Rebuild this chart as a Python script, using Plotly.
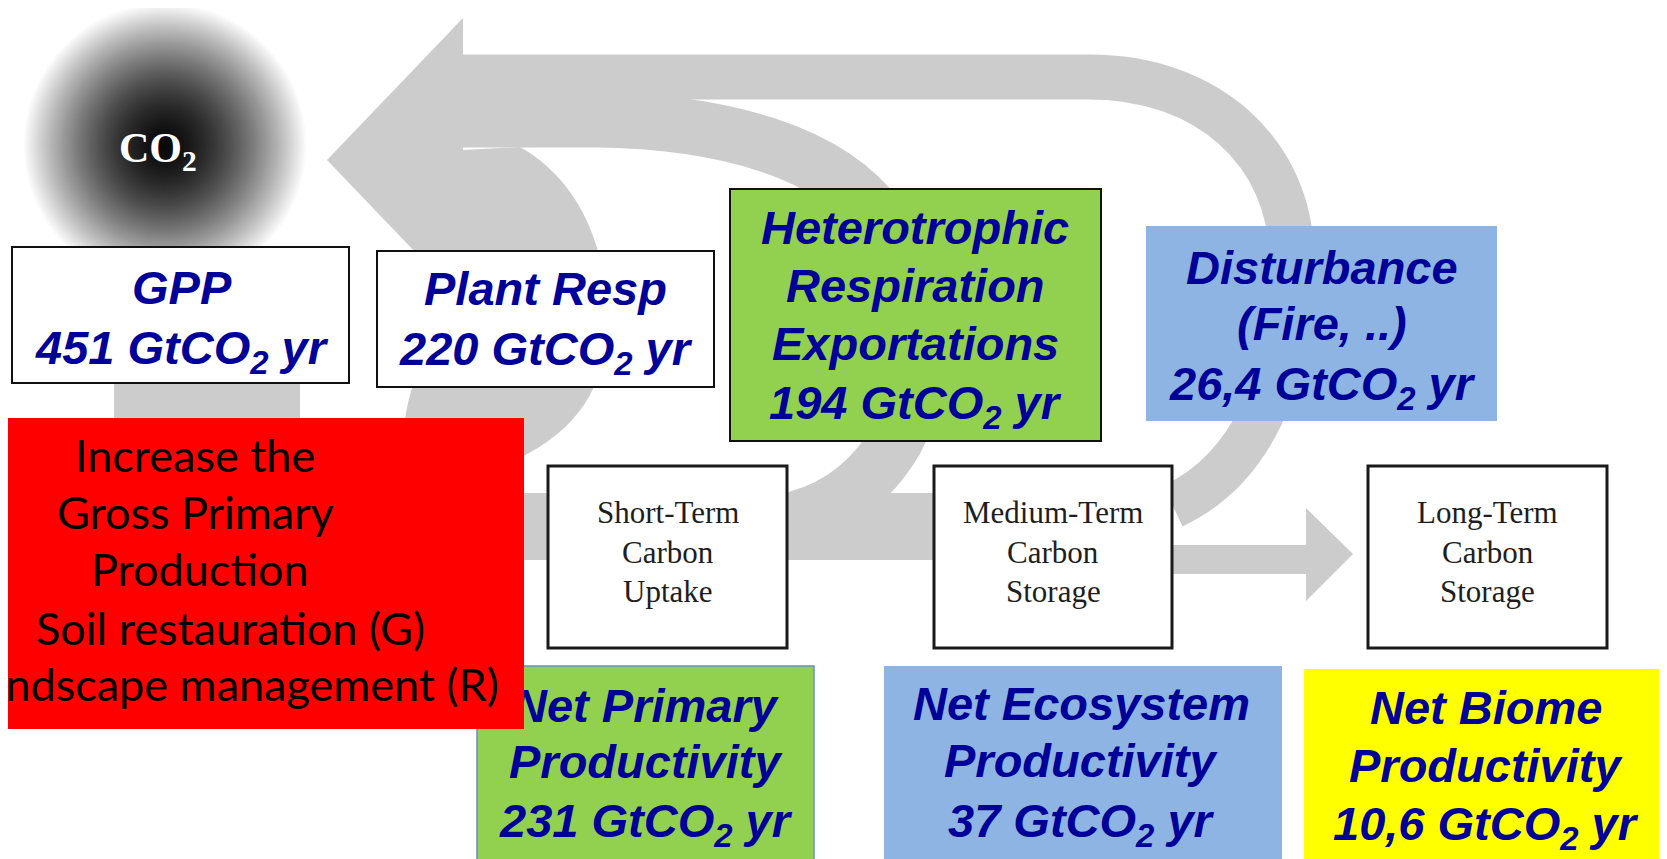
import plotly.graph_objects as go

# ------------------------------------------------------------------ data
flux_names = [
    ["GPP"],
    ["Plant Resp"],
    ["Heterotrophic", "Respiration", "Exportations"],
    ["Disturbance", "(Fire, ..)"],
    ["Net Primary", "Productivity"],
    ["Net Ecosystem", "Productivity"],
    ["Net Biome", "Productivity"],
]
flux_values = ["451", "220", "194", "26,4", "231", "37", "10,6"]
flux_unit = "GtCO<sub>2</sub> yr"
stage_labels = [
    ["Short-Term", "Carbon", "Uptake"],
    ["Medium-Term", "Carbon", "Storage"],
    ["Long-Term", "Carbon", "Storage"],
]
action_lines = ["Increase the", "Gross Primary", "Production",
                "Soil restauration (G)", "Landscape management (R)"]
source_label = "CO<sub>2</sub>"

# ------------------------------------------------------------------ layout geometry (pixels of the 1667x859 canvas)
W, H = 1667, 859
OFF = 8            # the page body adds an 8px margin; compensate so canvas px == page px
GRAY = "#CCCCCC"
NAVY = "#000099"

# x0, y0, x1, y1, fill, border colour, border width, text centre x, baselines
flux_boxes = [
    (12, 247, 349, 383, "white", "#111111", 2, 182, [304, 361.5]),
    (377, 251, 714, 387, "white", "#111111", 2, 545.5, [305, 362.5]),
    (730, 189, 1101, 441, "#92D050", "#111111", 2, 915, [244, 301.7, 360, 416.7]),
    (1146, 226, 1497, 421, "#8EB4E3", None, 0, 1322, [283.3, 340, 398.3]),
    (477, 666, 814, 866, "#92D050", "#6A8EC0", 1.5, 646, [721.7, 778, 835]),
    (884, 666, 1282, 866, "#8EB4E3", None, 0, 1081, [720, 776.7, 835]),
    (1304, 669, 1672, 866, "#FFFF00", None, 0, 1486, [723.3, 781.7, 838]),
]
stage_boxes = [(548, 466, 787, 648), (934, 466, 1172, 648), (1368, 466, 1607, 648)]
stage_baselines = [523, 563, 602]

shapes = []
annotations = []


def gpath(path, fill=True, width=0):
    if fill:
        shapes.append(dict(type="path", path=path, xref="x", yref="y", layer="below",
                           fillcolor=GRAY, line=dict(width=0)))
    else:
        shapes.append(dict(type="path", path=path, xref="x", yref="y", layer="below",
                           fillcolor="rgba(0,0,0,0)", line=dict(color=GRAY, width=width)))


# --- grey flow arrows (background)
gpath("M 327 160 L 463 18 L 463 302 Z")                                    # big arrow head -> CO2
gpath("M 458 77 L 1090 77 C 1205 77, 1292 150, 1292 262 "
      "C 1292 380, 1250 470, 1173 506", fill=False, width=45)               # disturbance loop
gpath("M 458 120 L 600 120 C 720 122, 830 150, 880 220 "
      "C 930 290, 925 400, 890 450 C 860 495, 820 515, 780 522",
      fill=False, width=55)                                                 # heterotrophic loop
gpath("M 463 150 L 520 147 C 575 178, 607 240, 607 320 C 607 390, 575 430, 520 458 "
      "L 470 493 L 395 493 L 405 420 C 410 385, 425 340, 463 300 Z")        # plant resp loop
gpath("M 114 250 L 114 420 C 114 520, 190 560, 330 560 L 560 560 L 560 493 "
      "L 420 493 C 350 493, 305 470, 300 420 L 300 250 Z")                  # GPP input
gpath("M 540 493 L 940 493 L 940 560 L 540 560 Z")                          # short -> medium
gpath("M 1168 545 L 1306 545 L 1306 508 L 1353 554 L 1306 601 L 1306 574 L 1168 574 Z")  # medium -> long

# --- CO2 sphere (radial gradient by concentric discs)
cx, cy, R = 165, 145, 143
N = 80
for i in range(N):
    t = 1 - i / N
    v = int(round(10 + 245 * t ** 1.6))
    r = R * t
    shapes.append(dict(type="circle", xref="x", yref="y", layer="below",
                       x0=cx - r, x1=cx + r, y0=cy - r, y1=cy + r,
                       fillcolor=f"rgb({v},{v},{v})", line=dict(width=0)))

# --- stage boxes
for (x0, y0, x1, y1) in stage_boxes:
    shapes.append(dict(type="rect", xref="x", yref="y", layer="above",
                       x0=x0, x1=x1, y0=y0, y1=y1, fillcolor="white",
                       line=dict(color="#1a1a1a", width=3)))

# --- flux boxes
for (x0, y0, x1, y1, fill, lc, lw, tx, bl) in flux_boxes:
    shapes.append(dict(type="rect", xref="x", yref="y", layer="above",
                       x0=x0, x1=x1, y0=y0, y1=y1, fillcolor=fill,
                       line=dict(color=lc or fill, width=lw)))


def text(x, baseline, s, size, family, color, k, xanchor="center"):
    annotations.append(dict(x=x, y=baseline - k * size, xref="x", yref="y",
                            text=s, showarrow=False, xanchor=xanchor, yanchor="middle",
                            borderpad=0, font=dict(family=family, size=size, color=color)))


BLUE_FONT = "Liberation Sans, Arial, sans-serif"
FS = 47
for (box, names, val) in zip(flux_boxes, flux_names, flux_values):
    tx, bl = box[7], box[8]
    lines = names + [f"{val} {flux_unit}"]
    for ln, b in zip(lines, bl):
        k = 0.23 if "<sub>" in ln else 0.3465
        text(tx, b, f"<b><i>{ln}</i></b>", FS, BLUE_FONT, NAVY, k)

for (x0, y0, x1, y1), lab in zip(stage_boxes, stage_labels):
    for ln, b in zip(lab, stage_baselines):
        text((x0 + x1) / 2, b, ln, 31, "Liberation Serif, Times New Roman, serif", "#1e1e1e", 0.3375)

# CO2 label
text(118, 160, f"<b>{source_label}</b>", 42, "Liberation Serif, Times New Roman, serif", "white", 0.22,
     xanchor="left")

# --- red action box (drawn as annotation so it sits above the NPP label)
annotations.append(dict(x=244, y=573.5, xref="x", yref="y", text=" ", showarrow=False,
                        xanchor="center", yanchor="middle", width=560, height=311,
                        bgcolor="#FF0000", borderpad=0, borderwidth=0))
red_base = [472.7, 529, 586.7, 645, 701.7]
red_x = [(195, "center"), (195, "center"), (200, "center"), (230, "center"), (500, "right")]
for ln, b, (x, xa) in zip(action_lines, red_base, red_x):
    text(x, b, ln, 45, "Lato, Calibri, sans-serif", "black", 0.387, xanchor=xa)

fig = go.Figure()
fig.add_trace(go.Scatter(x=[OFF, W], y=[OFF, H], mode="markers",
                         marker=dict(opacity=0), hoverinfo="skip", showlegend=False))
fig.update_layout(
    width=W - OFF, height=H - OFF, margin=dict(l=0, r=0, t=0, b=0),
    paper_bgcolor="white", plot_bgcolor="white", showlegend=False,
    xaxis=dict(range=[OFF, W], visible=False, fixedrange=True),
    yaxis=dict(range=[H, OFF], visible=False, fixedrange=True),
    shapes=shapes, annotations=annotations,
)
fig.write_html("out.html")
